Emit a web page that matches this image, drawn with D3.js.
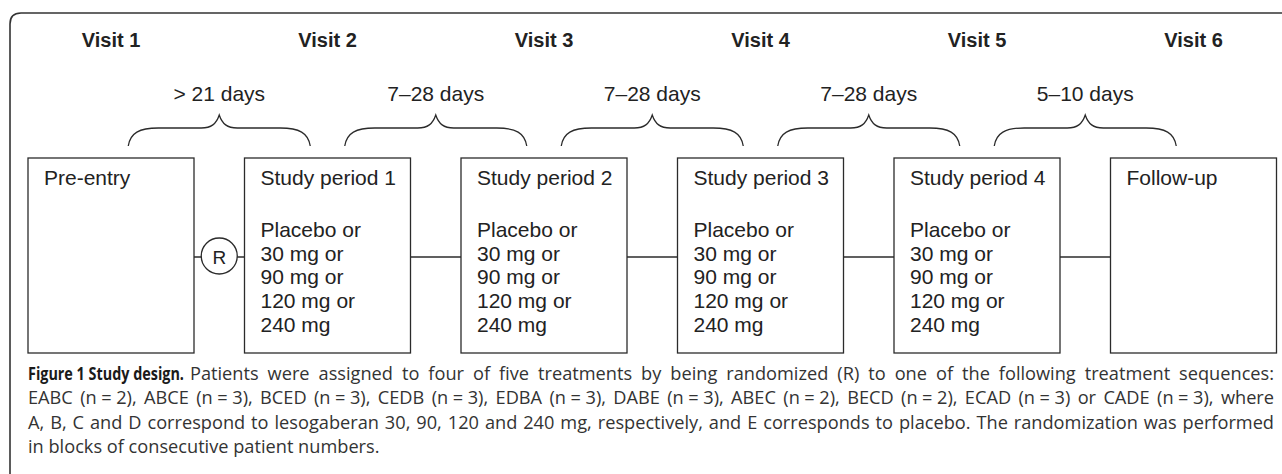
<!DOCTYPE html>
<html>
<head>
<meta charset="utf-8">
<script src="https://cdn.jsdelivr.net/npm/d3@7/dist/d3.min.js"></script>
<style>
  html, body { margin: 0; padding: 0; background: #fff; }
  svg { display: block; }
</style>
</head>
<body>
<div id="chart"></div>
<script>
// ---------------- data ----------------
const visits = ["Visit 1", "Visit 2", "Visit 3", "Visit 4", "Visit 5", "Visit 6"];
const intervals = ["> 21 days", "7\u201328 days", "7\u201328 days", "7\u201328 days", "5\u201310 days"];
const boxTitles = ["Pre-entry", "Study period 1", "Study period 2", "Study period 3", "Study period 4", "Follow-up"];
const boxHasTreatments = [false, true, true, true, true, false];
const treatments = ["Placebo or", "30 mg or", "90 mg or", "120 mg or", "240 mg"];
const randomLabel = "R";
const captionBold = "Figure 1 Study design.";
const eq = "\u2005=\u2005";
const captionLines = [
  "Patients were assigned to four of five treatments by being randomized (R) to one of the following treatment sequences:",
  `EABC (n${eq}2), ABCE (n${eq}3), BCED (n${eq}3), CEDB (n${eq}3), EDBA (n${eq}3), DABE (n${eq}3), ABEC (n${eq}2), BECD (n${eq}2), ECAD (n${eq}3) or CADE (n${eq}3), where`,
  "A, B, C and D correspond to lesogaberan 30, 90, 120 and 240 mg, respectively, and E corresponds to placebo. The randomization was performed",
  "in blocks of consecutive patient numbers."
];

// ---------------- layout ----------------
const W = 1282, H = 474;
const svg = d3.select("#chart").append("svg").attr("width", W).attr("height", H);

const x = d3.scaleLinear().domain([0, visits.length - 1]).range([111, 1193.5]);
const boxW = 166, boxTop = 158, boxBot = 353, connY = 257;
const ink = "#2b2b2b";
const sans = "'Liberation Sans', Arial, Helvetica, sans-serif";

// frame
svg.append("path")
  .attr("d", `M10,${H + 2} V24 Q10,13 21,13 H${W + 2}`)
  .attr("fill", "none").attr("stroke", "#333").attr("stroke-width", 1.6);

// visit labels
svg.selectAll("text.visit").data(visits).join("text")
  .attr("class", "visit")
  .attr("x", (d, i) => x(i)).attr("y", 47)
  .attr("text-anchor", "middle")
  .attr("font-family", sans).attr("font-weight", "bold").attr("font-size", 20)
  .attr("fill", "#222").text(d => d);

// interval labels
svg.selectAll("text.interval").data(intervals).join("text")
  .attr("class", "interval")
  .attr("x", (d, i) => (x(i) + x(i + 1)) / 2).attr("y", 101)
  .attr("text-anchor", "middle")
  .attr("font-family", sans).attr("font-size", 21)
  .attr("fill", "#222").text(d => d);

// braces
function brace(c) {
  const hw = 91, yEnd = 146, yFlat = 128, yTip = 115;
  const L = c - hw, R = c + hw;
  return `M${L},${yEnd} C${L + 2},${yFlat + 5} ${L + 11},${yFlat} ${L + 30},${yFlat}` +
         ` H${c - 18} C${c - 8},${yFlat} ${c - 3},${yFlat - 4} ${c},${yTip}` +
         ` C${c + 3},${yFlat - 4} ${c + 8},${yFlat} ${c + 18},${yFlat}` +
         ` H${R - 30} C${R - 11},${yFlat} ${R - 2},${yFlat + 5} ${R},${yEnd}`;
}
svg.selectAll("path.brace").data(intervals).join("path")
  .attr("class", "brace")
  .attr("d", (d, i) => brace((x(i) + x(i + 1)) / 2))
  .attr("fill", "none").attr("stroke", ink).attr("stroke-width", 1.3);

// connectors
const conns = d3.range(boxTitles.length - 1);
svg.selectAll("line.conn").data(conns).join("line")
  .attr("class", "conn")
  .attr("x1", i => x(i) + boxW / 2).attr("x2", i => x(i + 1) - boxW / 2)
  .attr("y1", connY).attr("y2", connY)
  .attr("stroke", ink).attr("stroke-width", 1.3);

// randomization circle
const rx = (x(0) + x(1)) / 2;
svg.append("circle").attr("cx", rx).attr("cy", connY - 1).attr("r", 18)
  .attr("fill", "#fff").attr("stroke", ink).attr("stroke-width", 1.3);
svg.append("text").attr("x", rx).attr("y", connY + 6.5)
  .attr("text-anchor", "middle").attr("font-family", sans).attr("font-size", 19)
  .attr("fill", "#222").text(randomLabel);

// boxes
const boxes = svg.selectAll("g.box").data(boxTitles).join("g").attr("class", "box");
boxes.append("rect")
  .attr("x", (d, i) => x(i) - boxW / 2).attr("y", boxTop)
  .attr("width", boxW).attr("height", boxBot - boxTop)
  .attr("fill", "#fff").attr("stroke", ink).attr("stroke-width", 1.3);
boxes.append("text")
  .attr("x", (d, i) => x(i) - boxW / 2 + 16).attr("y", 185)
  .attr("font-family", sans).attr("font-size", 21).attr("fill", "#222")
  .text(d => d);
boxes.each(function(d, i) {
  if (!boxHasTreatments[i]) return;
  d3.select(this).selectAll("text.tr").data(treatments).join("text")
    .attr("class", "tr")
    .attr("x", x(i) - boxW / 2 + 16).attr("y", (t, j) => 237 + j * 23.7)
    .attr("font-family", sans).attr("font-size", 21).attr("fill", "#222")
    .text(t => t);
});

// caption
const capFont = "'Open Sans', 'Noto Sans', sans-serif";
const capSize = 18.2;
const capLeft = 28, capRight = 1274, capY0 = 380, capDy = 24.4, boldW = 156, boldGap = 6;

// bold lead-in, horizontally condensed to the reference width
const boldG = svg.append("g");
const boldT = boldG.append("text")
  .attr("x", 0).attr("y", 0)
  .attr("font-family", capFont).attr("font-size", capSize).attr("font-weight", "bold")
  .attr("fill", "#1a1a1a").text(captionBold);
const boldNat = boldT.node().getComputedTextLength();
boldG.attr("transform", `translate(${capLeft},${capY0}) scale(${boldW / boldNat},1)`);

captionLines.forEach((line, k) => {
  const x0 = k === 0 ? capLeft + boldW + boldGap : capLeft;
  const t = svg.append("text")
    .attr("x", x0).attr("y", capY0 + k * capDy)
    .attr("font-family", capFont).attr("font-size", capSize).attr("fill", "#333")
    .text(line);
  if (k < captionLines.length - 1) {
    const spaces = (line.match(/ /g) || []).length;
    const nat = t.node().getComputedTextLength();
    t.attr("word-spacing", (capRight - x0 - nat) / spaces);
  }
});
</script>
</body>
</html>
